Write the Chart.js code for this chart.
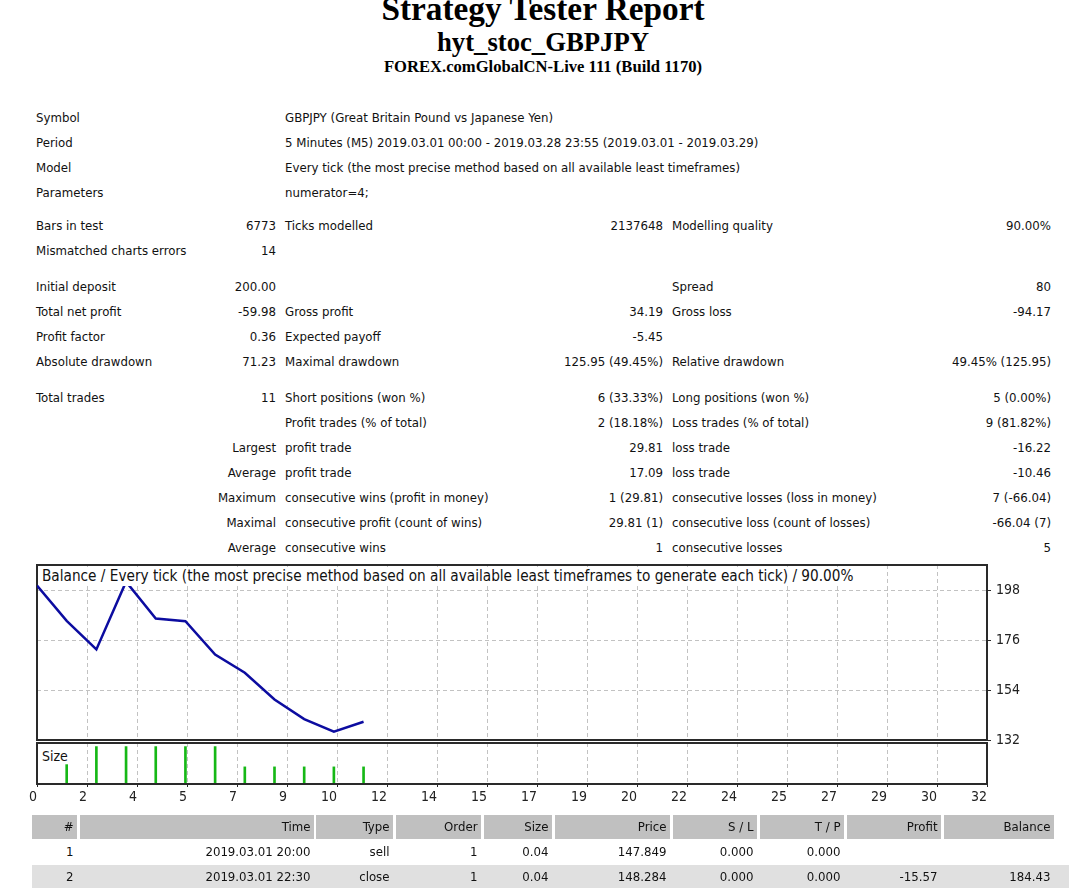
<!DOCTYPE html>
<html>
<head>
<meta charset="utf-8">
<title>Strategy Tester: hyt_stoc_GBPJPY</title>
<script src="https://cdn.jsdelivr.net/npm/chart.js@4.4.1/dist/chart.umd.min.js"></script>
<style>
body { margin: 0; background: #fff; }
#page { position: relative; width: 1069px; height: 896px; overflow: hidden;
        font-family: "DejaVu Sans Condensed", "DejaVu Sans", sans-serif; font-size: 13.1px; color: #111; }
.hd { position: absolute; left: 0; width: 1086px; text-align: center; white-space: nowrap;
      font-family: "Liberation Serif", "Times New Roman", serif; font-weight: bold; line-height: 1; color: #000; }
.row { position: absolute; left: 0; width: 1069px; height: 25px; line-height: 25px; white-space: nowrap; }
.row span { position: absolute; top: 0; }
.c1 { left: 36px; }
.c2 { right: 793px; }
.c3 { left: 285px; }
.c4 { right: 406px; }
.c5 { left: 672px; }
.c6 { right: 18px; }
canvas { position: absolute; left: 0; }
#balanceChart { top: 560px; }
#sizeChart { top: 739px; }
.lbl { position: absolute; white-space: nowrap; background: #fff; padding: 0 3px; }
.cell { position: absolute; box-sizing: border-box; text-align: right; padding-right: 3.5px; white-space: nowrap; }
.band { position: absolute; }
</style>
</head>
<body>
<div id="page">
  <div class="hd" style="top:-8px;font-size:33.3px">Strategy Tester Report</div>
  <div class="hd" style="top:29.4px;font-size:26.7px">hyt_stoc_GBPJPY</div>
  <div class="hd" style="top:58.7px;font-size:16.6px">FOREX.comGlobalCN-Live 111 (Build 1170)</div>

  <div class="row" style="top:104.7px"><span class="c1">Symbol</span><span class="c3">GBPJPY (Great Britain Pound vs Japanese Yen)</span></div>
  <div class="row" style="top:129.7px"><span class="c1">Period</span><span class="c3">5 Minutes (M5) 2019.03.01 00:00 - 2019.03.28 23:55 (2019.03.01 - 2019.03.29)</span></div>
  <div class="row" style="top:154.7px"><span class="c1">Model</span><span class="c3">Every tick (the most precise method based on all available least timeframes)</span></div>
  <div class="row" style="top:179.7px"><span class="c1">Parameters</span><span class="c3">numerator=4;</span></div>

  <div class="row" style="top:213px"><span class="c1">Bars in test</span><span class="c2">6773</span><span class="c3">Ticks modelled</span><span class="c4">2137648</span><span class="c5">Modelling quality</span><span class="c6">90.00%</span></div>
  <div class="row" style="top:238px"><span class="c1">Mismatched charts errors</span><span class="c2">14</span></div>

  <div class="row" style="top:274px"><span class="c1">Initial deposit</span><span class="c2">200.00</span><span class="c5">Spread</span><span class="c6">80</span></div>
  <div class="row" style="top:299px"><span class="c1">Total net profit</span><span class="c2">-59.98</span><span class="c3">Gross profit</span><span class="c4">34.19</span><span class="c5">Gross loss</span><span class="c6">-94.17</span></div>
  <div class="row" style="top:324px"><span class="c1">Profit factor</span><span class="c2">0.36</span><span class="c3">Expected payoff</span><span class="c4">-5.45</span></div>
  <div class="row" style="top:349px"><span class="c1">Absolute drawdown</span><span class="c2">71.23</span><span class="c3">Maximal drawdown</span><span class="c4">125.95 (49.45%)</span><span class="c5">Relative drawdown</span><span class="c6">49.45% (125.95)</span></div>

  <div class="row" style="top:385px"><span class="c1">Total trades</span><span class="c2">11</span><span class="c3">Short positions (won %)</span><span class="c4">6 (33.33%)</span><span class="c5">Long positions (won %)</span><span class="c6">5 (0.00%)</span></div>
  <div class="row" style="top:410px"><span class="c3">Profit trades (% of total)</span><span class="c4">2 (18.18%)</span><span class="c5">Loss trades (% of total)</span><span class="c6">9 (81.82%)</span></div>
  <div class="row" style="top:434.5px"><span class="c2">Largest</span><span class="c3">profit trade</span><span class="c4">29.81</span><span class="c5">loss trade</span><span class="c6">-16.22</span></div>
  <div class="row" style="top:459.5px"><span class="c2">Average</span><span class="c3">profit trade</span><span class="c4">17.09</span><span class="c5">loss trade</span><span class="c6">-10.46</span></div>
  <div class="row" style="top:484.5px"><span class="c2">Maximum</span><span class="c3">consecutive wins (profit in money)</span><span class="c4">1 (29.81)</span><span class="c5">consecutive losses (loss in money)</span><span class="c6">7 (-66.04)</span></div>
  <div class="row" style="top:509.5px"><span class="c2">Maximal</span><span class="c3">consecutive profit (count of wins)</span><span class="c4">29.81 (1)</span><span class="c5">consecutive loss (count of losses)</span><span class="c6">-66.04 (7)</span></div>
  <div class="row" style="top:534.5px"><span class="c2">Average</span><span class="c3">consecutive wins</span><span class="c4">1</span><span class="c5">consecutive losses</span><span class="c6">5</span></div>

  <canvas id="balanceChart" width="1069" height="185"></canvas>
  <canvas id="sizeChart" width="1069" height="73"></canvas>
  <div class="lbl" style="left:39px;top:567px;height:19px;line-height:19px;font-size:15.2px">Balance / Every tick (the most precise method based on all available least timeframes to generate each tick) / 90.00%</div>
  <div class="lbl" style="left:39px;top:748px;line-height:16px;font-size:14px">Size</div>

  <div id="trades"></div>
</div>

<script>
// x axis of the report graph: trade number, labels as MT4 prints them
const xTickLabels = ['0', '2', '4', '5', '7', '9', '10', '12', '14', '15', '17', '19', '20', '22', '24', '25', '27', '29', '30', '32'];
const xMax = 32;

// balance after each closed trade (index 0 = initial deposit)
const balanceTradeNo = [0, 1, 2, 3, 4, 5, 6, 7, 8, 9, 10, 11];
const balance = [200.00, 184.43, 171.87, 201.68, 185.46, 184.30, 169.60, 161.60, 149.80, 141.20, 135.64, 140.02];
const balanceTicks = [132, 154, 176, 198];
const balanceMin = 132;
const balanceMax = 209;

// lot size of each trade
const sizeTradeNo = [1, 2, 3, 4, 5, 6, 7, 8, 9, 10, 11];
const lotSize = [0.04, 0.08, 0.08, 0.08, 0.08, 0.08, 0.035, 0.035, 0.035, 0.035, 0.035];

// first rows of the deals table
const tradeHeader = ['#', 'Time', 'Type', 'Order', 'Size', 'Price', 'S / L', 'T / P', 'Profit', 'Balance'];
const tradeRows = [
    ['1', '2019.03.01 20:00', 'sell', '1', '0.04', '147.849', '0.000', '0.000', '', ''],
    ['2', '2019.03.01 22:30', 'close', '1', '0.04', '148.284', '0.000', '0.000', '-15.57', '184.43']
];

const fontFamily = '"DejaVu Sans Condensed", "DejaVu Sans", sans-serif';
const gridColor = '#c2c2c2';
const gridDash = [4, 3];
const frameColor = '#2a2a2a';
const xTicks = xTickLabels.map((l, i) => i * xMax / (xTickLabels.length - 1));

// fixed axis sizes so both panels share the same plot width
function fixWidth(w) {
    return function (scale) {
        scale.width = w;
        scale.paddingTop = 0;
        scale.paddingBottom = 0;
    };
}
function fixHeight(h) {
    return function (scale) {
        scale.height = h;
        scale.paddingLeft = 0;
        scale.paddingRight = 0;
    };
}
function setXTicks(scale) { scale.ticks = xTicks.map(v => ({ value: v })); }

// plain axes used only to draw the frame on the other two sides
function frameAxis(position, size) {
    const horizontal = position === 'top' || position === 'bottom';
    return {
        type: 'linear',
        position: position,
        afterFit: horizontal ? fixHeight(size) : fixWidth(size),
        ticks: { display: false },
        grid: { display: false },
        border: { display: true, color: frameColor, width: 2 }
    };
}

const common = {
    responsive: false,
    animation: false,
    events: [],
    layout: { padding: 0 },
    plugins: { legend: { display: false }, tooltip: { enabled: false } }
};

// Balance graph
new Chart(document.getElementById('balanceChart'), {
    type: 'line',
    data: {
        datasets: [{
            data: balanceTradeNo.map((t, i) => ({ x: t, y: balance[i] })),
            borderColor: '#0c0ca0',
            borderWidth: 2.5,
            pointRadius: 0,
            tension: 0,
            fill: false
        }]
    },
    options: {
        ...common,
        scales: {
            x: {
                type: 'linear',
                position: 'bottom',
                min: 0,
                max: xMax,
                afterBuildTicks: setXTicks,
                afterFit: fixHeight(5),
                ticks: { display: false },
                grid: { color: gridColor, drawTicks: false },
                border: { display: true, color: frameColor, width: 2, dash: gridDash }
            },
            y: {
                type: 'linear',
                position: 'right',
                min: balanceMin,
                max: balanceMax,
                afterBuildTicks: function (scale) { scale.ticks = balanceTicks.map(v => ({ value: v })); },
                afterFit: fixWidth(82),
                ticks: { color: '#222', padding: 5, font: { family: fontFamily, size: 14 } },
                grid: { color: gridColor, tickLength: 4, tickColor: frameColor, tickWidth: 1 },
                border: { display: true, color: frameColor, width: 2, dash: gridDash }
            },
            xTop: frameAxis('top', 5),
            yLeft: frameAxis('left', 37)
        }
    }
});

// Size graph
new Chart(document.getElementById('sizeChart'), {
    type: 'bar',
    data: {
        datasets: [{
            data: sizeTradeNo.map((t, i) => ({ x: t, y: lotSize[i] })),
            backgroundColor: '#16b816',
            borderWidth: 0,
            barThickness: 2
        }]
    },
    options: {
        ...common,
        scales: {
            x: {
                type: 'linear',
                position: 'bottom',
                offset: false,
                min: 0,
                max: xMax,
                afterBuildTicks: setXTicks,
                afterFit: fixHeight(28),
                ticks: {
                    autoSkip: false,
                    maxRotation: 0,
                    align: 'end',
                    padding: 2,
                    color: '#222',
                    font: { family: fontFamily, size: 14 },
                    callback: (value, index) => xTickLabels[index]
                },
                grid: { offset: false, color: gridColor, tickLength: 3, tickColor: frameColor, tickWidth: 1 },
                border: { display: true, color: frameColor, width: 2, dash: gridDash }
            },
            y: {
                type: 'linear',
                position: 'right',
                min: -0.003,
                max: 0.088,
                afterFit: fixWidth(82),
                ticks: { display: false },
                grid: { display: false },
                border: { display: true, color: frameColor, width: 2 }
            },
            xTop: frameAxis('top', 4),
            yLeft: frameAxis('left', 37)
        }
    }
});

// deals table
(function () {
    const lefts = [32, 80, 316, 396, 484, 555, 673, 760, 847, 944];
    const rights = [77, 314, 393, 481, 552, 670, 757, 844, 941, 1054];
    const box = document.getElementById('trades');
    let html = '';
    tradeHeader.forEach((h, i) => {
        html += '<div class="cell" style="left:' + lefts[i] + 'px;width:' + (rights[i] - lefts[i]) +
            'px;top:815px;height:24px;line-height:24px;background:#c0c0c0">' + h + '</div>';
    });
    const rowTops = [839, 865];
    const rowHeights = [25, 23];
    tradeRows.forEach((r, k) => {
        if (k % 2 === 1) {
            html += '<div class="band" style="left:32px;width:1037px;top:' + rowTops[k] + 'px;height:' + rowHeights[k] + 'px;background:#e0e0e0"></div>';
        }
        r.forEach((t, i) => {
            html += '<div class="cell" style="left:' + lefts[i] + 'px;width:' + (rights[i] - lefts[i]) +
                'px;top:' + rowTops[k] + 'px;height:' + rowHeights[k] + 'px;line-height:' + rowHeights[k] + 'px">' + t + '</div>';
        });
    });
    box.innerHTML = html;
})();
</script>
</body>
</html>
